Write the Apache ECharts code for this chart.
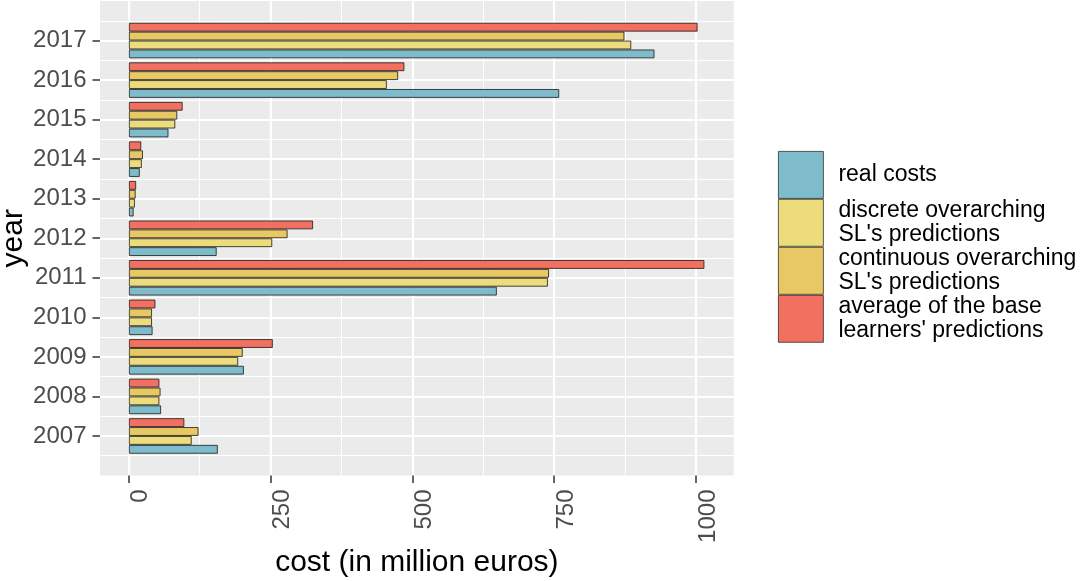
<!DOCTYPE html>
<html>
<head>
<meta charset="utf-8">
<script src="https://cdn.jsdelivr.net/npm/echarts@6/dist/echarts.min.js"></script>
<style>
html,body{margin:0;padding:0;background:#fff;}
#chart{width:1081px;height:581px;}
</style>
</head>
<body>
<div id="chart"></div>
<script>
const years = ['2007','2008','2009','2010','2011','2012','2013','2014','2015','2016','2017'];
const realCosts = [157, 57, 203, 42, 649, 155, 8.6, 19.4, 70, 759, 927];
const discretePred = [111, 54, 193, 41, 739, 253, 10.8, 23, 82, 455, 886];
const continuousPred = [123, 56, 201, 41, 741, 280, 12.2, 25, 85.5, 475, 874];
const averagePred = [98, 54, 254, 47, 1015, 325, 13, 22, 95, 486, 1003];
const xTicks = [0, 250, 500, 750, 1000];
const seriesNames = ['real costs', "discrete overarching\nSL's predictions", "continuous overarching\nSL's predictions", "average of the base\nlearners' predictions"];
const colors = ['#7FBCCB', '#EDDC7C', '#E8C862', '#F1705F'];

const FONT = 'Liberation Sans, Arial, sans-serif';
const panelLeft = 100, panelTop = 1, panelW = 633.7, panelH = 474.5;
const xMin = -50.8, xMax = 1066.6;
const yMin = 2006, yMax = 2018;
const pxPerX = panelW / (xMax - xMin);
const pxPerY = panelH / (yMax - yMin);
const zeroPx = panelLeft + (0 - xMin) * pxPerX;
const thousandPx = panelLeft + (1000 - xMin) * pxPerX;

const chart = echarts.init(document.getElementById('chart'), null, {renderer: 'canvas'});

const values = [realCosts, discretePred, continuousPred, averagePred];
// ECharts stacks grouped horizontal bars top-down, so add series in reverse order
const order = [3, 2, 1, 0];
const series = order.map(i => ({
  name: seriesNames[i],
  type: 'bar',
  xAxisIndex: 2,
  yAxisIndex: 2,
  data: values[i],
  barGap: '0%',
  barCategoryGap: '10%',
  itemStyle: {color: colors[i], borderColor: 'rgba(25,25,25,0.8)', borderWidth: 1},
  emphasis: {disabled: true},
  z: 3
}));

chart.setOption({
  animation: false,
  backgroundColor: '#ffffff',
  textStyle: {fontFamily: FONT},
  grid: [
    {left: panelLeft, top: panelTop, width: panelW, height: panelH, show: true, backgroundColor: '#EBEBEB', borderWidth: 0, outerBoundsMode: 'none', containLabel: false},
    {left: zeroPx, top: panelTop, width: thousandPx - zeroPx, height: panelH, outerBoundsMode: 'none', containLabel: false},
    {left: panelLeft, top: panelTop + 0.5 * pxPerY, width: panelW, height: 11 * pxPerY, outerBoundsMode: 'none', containLabel: false}
  ],
  xAxis: [
    {gridIndex: 0, type: 'value', min: xMin, max: xMax, show: true,
     axisLine: {show: false, onZero: false}, axisTick: {show: false}, axisLabel: {show: false}, splitLine: {show: false},
     name: 'cost (in million euros)', nameLocation: 'middle', nameGap: 72,
     nameTextStyle: {fontSize: 30, color: '#000', fontFamily: FONT}},
    {gridIndex: 1, type: 'value', min: 0, max: 1000, interval: 250,
     axisLine: {show: false, onZero: false},
     axisTick: {show: true, length: 7.5, lineStyle: {color: '#333333', width: 1.5}},
     axisLabel: {show: true, rotate: 90, margin: 14, verticalAlign: 'top', fontSize: 24, color: '#4D4D4D', fontFamily: FONT,
       formatter: v => xTicks.includes(v) ? String(v) : ''},
     splitLine: {show: true, lineStyle: {color: '#FFFFFF', width: 2.2}},
     minorTick: {show: false, splitNumber: 2},
     minorSplitLine: {show: true, lineStyle: {color: '#FFFFFF', width: 1.1}}},
    {gridIndex: 2, type: 'value', min: xMin, max: xMax, show: false, axisLine: {onZero: false}}
  ],
  yAxis: [
    {gridIndex: 0, type: 'value', min: yMin, max: yMax, interval: 1, show: true,
     axisLine: {show: false, onZero: false}, axisTick: {show: false}, axisLabel: {show: false},
     splitLine: {show: true, showMinLine: false, showMaxLine: false, lineStyle: {color: '#FFFFFF', width: 2.2}},
     minorTick: {show: false, splitNumber: 2},
     minorSplitLine: {show: true, lineStyle: {color: '#FFFFFF', width: 1.1}},
     name: 'year', nameLocation: 'middle', nameGap: 71,
     nameTextStyle: {fontSize: 30, color: '#000', fontFamily: FONT}},
    {gridIndex: 1, type: 'value', show: false, axisLine: {onZero: false}},
    {gridIndex: 2, type: 'category', data: years,
     axisLine: {show: false, onZero: false},
     axisTick: {show: true, alignWithLabel: true, length: 7.5, lineStyle: {color: '#333333', width: 1.5}},
     axisLabel: {fontSize: 24, color: '#4D4D4D', margin: 13.5, fontFamily: FONT},
     splitLine: {show: false}}
  ],
  legend: {
    orient: 'vertical',
    left: 778, top: 151, padding: 0,
    itemWidth: 45, itemHeight: 47, itemGap: 0,
    icon: 'rect',
    data: seriesNames,
    selectedMode: false,
    itemStyle: {borderWidth: 0.8, borderColor: 'rgba(20,20,20,0.85)'},
    textStyle: {fontSize: 23, lineHeight: 24, color: '#000', fontFamily: FONT, padding: [0, 0, 0, 10]}
  },
  series: series
});
</script>
</body>
</html>
